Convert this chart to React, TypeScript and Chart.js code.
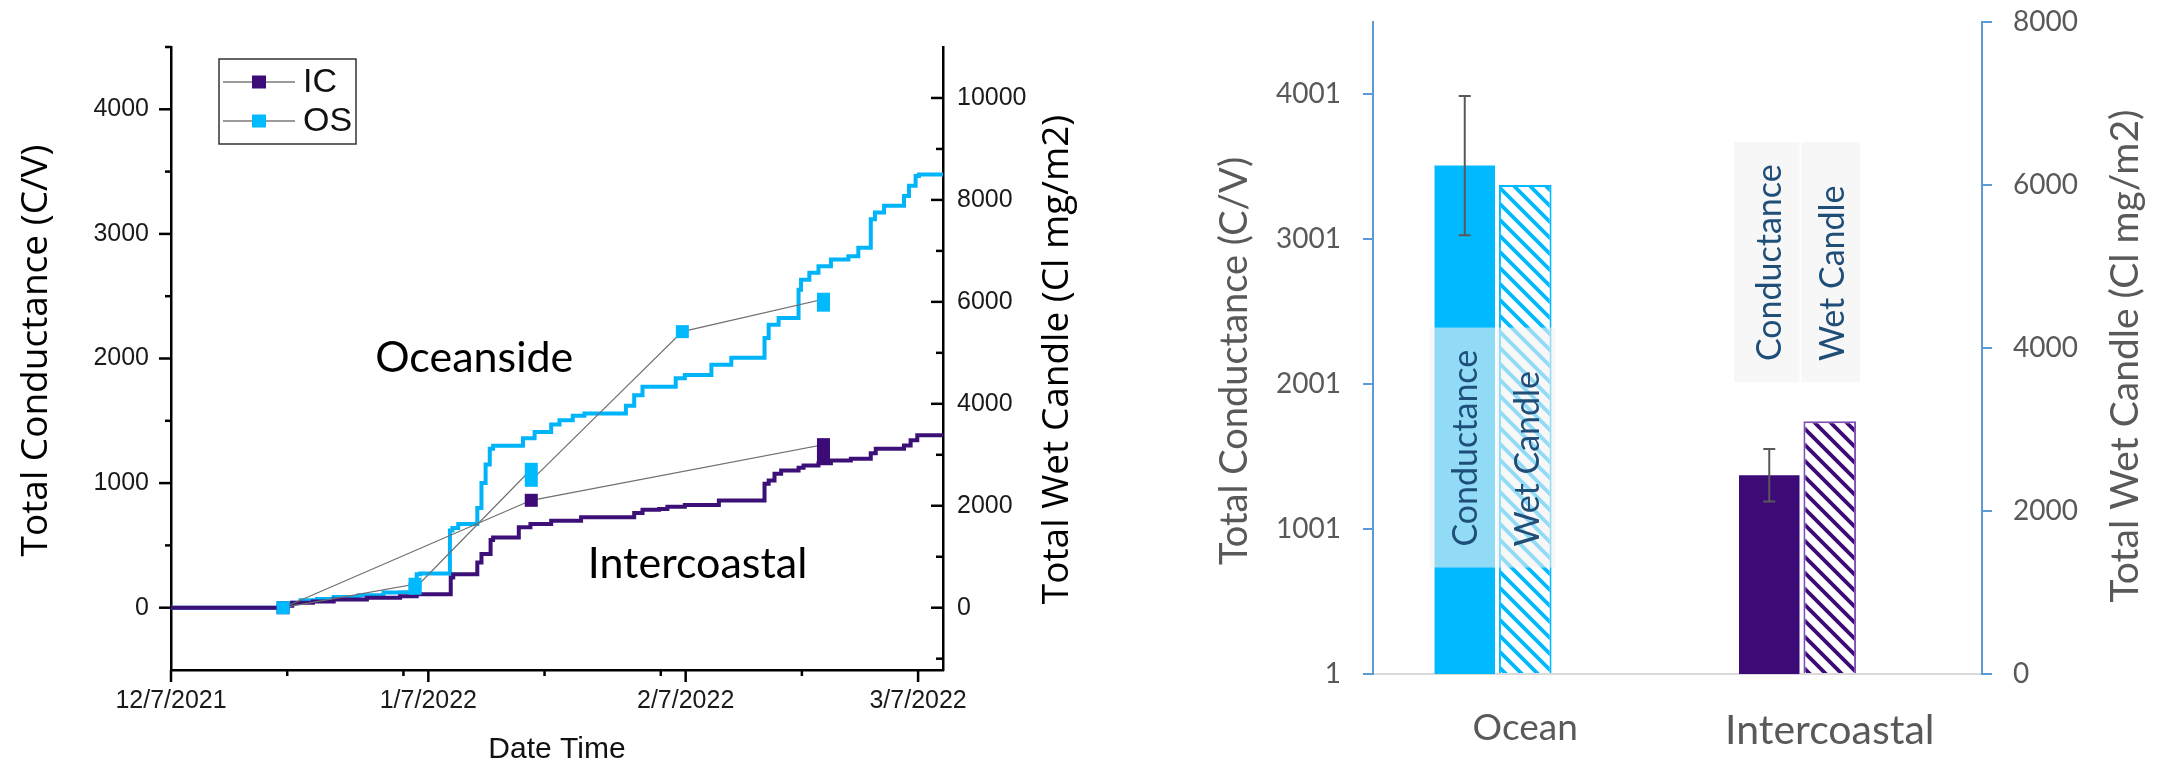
import React, { useEffect, useRef } from 'react';
import { Chart, registerables } from 'chart.js';

Chart.register(...registerables);

// ---------- Left panel: cumulative series (x = days since 12/7/2021) ----------
const osDays = [0, 13.9, 14.6, 15.6, 17.6, 19.6, 22.6, 25.6, 27.6, 29.1, 29.6, 30.0, 33.6, 33.9, 34.6, 36.9, 37.4, 37.9, 38.4, 38.8, 42.4, 43.8, 45.8, 46.8, 48.4, 49.8, 54.8, 55.8, 56.8, 60.8, 61.9, 65.1, 67.5, 71.5, 72.0, 73.2, 75.6, 75.9, 76.9, 78.0, 79.5, 81.6, 82.8, 84.3, 84.8, 85.9, 88.3, 88.9, 89.7, 90.1, 93];
const osConductance = [0, 0, 20, 40, 59, 70, 85, 100, 121, 125, 200, 269, 275, 620, 640, 672, 800, 1000, 1150, 1276, 1300, 1360, 1410, 1470, 1504, 1540, 1558, 1620, 1706, 1773, 1841, 1867, 1950, 2006, 2165, 2271, 2326, 2552, 2633, 2688, 2741, 2795, 2820, 2889, 3117, 3171, 3225, 3305, 3386, 3464, 3477];
const icDays = [0, 13.9, 14.6, 17.1, 19.6, 23.6, 27.6, 29.6, 33.7, 34.0, 34.6, 36.9, 37.4, 38.5, 38.8, 41.9, 43.3, 45.8, 49.4, 55.8, 56.8, 58.8, 59.8, 61.9, 66.0, 71.5, 72.0, 72.7, 73.5, 75.6, 76.2, 78.0, 79.5, 81.9, 84.3, 84.9, 88.3, 89.1, 89.9, 90.3, 93];
const icConductance = [0, 0, 15, 40, 50, 65, 80, 92, 107, 242, 269, 269, 363, 430, 543, 564, 645, 671, 698, 725, 760, 786, 793, 811, 825, 860, 994, 1020, 1075, 1102, 1123, 1141, 1160, 1182, 1195, 1240, 1276, 1302, 1344, 1384, 1384];
const osCandleDays = [13.5, 29.4, 29.4, 43.4, 43.4, 61.6, 78.6, 78.6];
const osCandleValues = [0, 461, 382, 2715, 2499, 5416, 6052, 5935];
const icCandleDays = [13.5, 43.4, 78.6, 78.6, 78.6];
const icCandleValues = [0, 2107, 3199, 3065, 2930];
const dateTickDays = [0, 31, 62, 90];
const dateTickLabels = ['12/7/2021', '1/7/2022', '2/7/2022', '3/7/2022'];
const dateMinorDays = [14, 28, 45, 59, 76];
const conductanceTicks = [0, 1000, 2000, 3000, 4000];
const conductanceMinor = [500, 1500, 2500, 3500, 4500];
const candleTicks = [0, 2000, 4000, 6000, 8000, 10000];
const candleMinor = [-1000, 1000, 3000, 5000, 7000, 9000];
const legendLabels = ['IC', 'OS'];

// ---------- Right panel: totals per site ----------
const sites = ['Ocean', 'Intercoastal'];
const siteConductance = [3510, 1373];
const siteConductanceErr = [480, 181];
const siteWetCandle = [6000, 3100];
const barConductanceTicks = [1, 1001, 2001, 3001, 4001];
const seriesLabels = ['Conductance', 'Wet Candle'];

const CYAN = '#00B9FF';
const PURPLE = '#3D0B78';
const CYAN_LINE = '#00B4FA';
const PURPLE_LINE = '#3C1077';

function vText(ctx: CanvasRenderingContext2D, text: string, x: number, y: number, font: string, color: string, align: CanvasTextAlign = 'center') {
  ctx.save();
  ctx.translate(x, y);
  ctx.rotate(-Math.PI / 2);
  ctx.font = font;
  ctx.fillStyle = color;
  ctx.textAlign = align;
  ctx.textBaseline = 'alphabetic';
  ctx.fillText(text, 0, 0);
  ctx.restore();
}

function makeHatch(color: string): CanvasPattern {
  const c = document.createElement('canvas');
  c.width = 16;
  c.height = 16;
  const g = c.getContext('2d')!;
  g.fillStyle = '#ffffff';
  g.fillRect(0, 0, 16, 16);
  g.strokeStyle = color;
  g.lineWidth = 3.8;
  g.beginPath();
  g.moveTo(-4, -4); g.lineTo(20, 20);
  g.moveTo(-4, 12); g.lineTo(4, 20);
  g.moveTo(12, -4); g.lineTo(20, 4);
  g.stroke();
  return g.createPattern(c, 'repeat')!;
}

const noVPad = (s: any, w: number) => {
  s.width = w;
  s.paddingTop = 0;
  s.paddingBottom = 0;
};

const leftDecor = {
  id: 'leftDecor',
  afterDraw(chart: any) {
    const ctx: CanvasRenderingContext2D = chart.ctx;
    const a = chart.chartArea;
    const sx = chart.scales.x, sy = chart.scales.y, sy2 = chart.scales.y2;
    ctx.save();
    ctx.strokeStyle = '#000';
    ctx.lineWidth = 2.5;
    const seg = (x1: number, y1: number, x2: number, y2: number) => {
      ctx.beginPath(); ctx.moveTo(x1, y1); ctx.lineTo(x2, y2); ctx.stroke();
    };
    conductanceTicks.forEach(v => { const p = sy.getPixelForValue(v); seg(a.left - 12, p, a.left, p); });
    conductanceMinor.forEach(v => { const p = sy.getPixelForValue(v); seg(a.left - 6, p, a.left, p); });
    candleTicks.forEach(v => { const p = sy2.getPixelForValue(v); seg(a.right, p, a.right - 12, p); });
    candleMinor.forEach(v => { const p = sy2.getPixelForValue(v); seg(a.right, p, a.right - 7, p); });
    dateTickDays.forEach(v => { const p = sx.getPixelForValue(v); seg(p, a.bottom, p, a.bottom + 12); });
    dateMinorDays.forEach(v => { const p = sx.getPixelForValue(v); seg(p, a.bottom, p, a.bottom + 6); });

    // legend
    const bx = a.left + 48, by = a.top + 12;
    ctx.lineWidth = 1.5;
    ctx.strokeStyle = '#333';
    ctx.strokeRect(bx, by, 137, 85);
    const rows = [a.top + 35, a.top + 74];
    const cols = [PURPLE, CYAN];
    rows.forEach((ry, i) => {
      ctx.strokeStyle = '#7a7a7a';
      ctx.lineWidth = 1.5;
      seg(bx + 4, ry, bx + 76, ry);
      ctx.fillStyle = cols[i];
      ctx.fillRect(bx + 33, ry - 6.5, 14, 13);
      ctx.fillStyle = '#111';
      ctx.font = '34px "Liberation Sans", Arial, sans-serif';
      ctx.textAlign = 'left';
      ctx.textBaseline = 'middle';
      ctx.fillText(legendLabels[i], bx + 84, ry + 1);
    });

    // axis titles
    const cy = (a.top + a.bottom) / 2;
    vText(ctx, 'Total Conductance (C/V)', a.left - 124, cy - 8, '37px "Open Sans", sans-serif', '#000');
    vText(ctx, 'Total Wet Candle (Cl mg/m2)', a.right + 125, cy + 1, '37px "Open Sans", sans-serif', '#000');
    ctx.font = '30px "Liberation Sans", Arial, sans-serif';
    ctx.fillStyle = '#111';
    ctx.textAlign = 'center';
    ctx.textBaseline = 'alphabetic';
    ctx.fillText('Date Time', (a.left + a.right) / 2, a.bottom + 88);

    // site annotations
    ctx.font = '43px Lato, sans-serif';
    ctx.fillStyle = '#000';
    ctx.textAlign = 'left';
    ctx.fillText('Oceanside', sx.getPixelForValue(24.6), sy.getPixelForValue(1892));
    ctx.fillText('Intercoastal', sx.getPixelForValue(50.2), sy.getPixelForValue(238));
    ctx.restore();
  },
};

const rightDecor = {
  id: 'rightDecor',
  afterDatasetsDraw(chart: any) {
    const ctx: CanvasRenderingContext2D = chart.ctx;
    const sy = chart.scales.y;
    const m0 = chart.getDatasetMeta(0), m1 = chart.getDatasetMeta(1);
    const mids = [1564, 2844];
    ctx.save();
    sites.forEach((_, i) => {
      const b0 = m0.data[i], b1 = m1.data[i];
      const cy = sy.getPixelForValue(mids[i]);
      const top = cy - 120, bottom = cy + 120;
      ctx.fillStyle = 'rgba(242,242,242,0.6)';
      ctx.fillRect(b0.x - b0.width / 2 - 5, top, b0.width + 5, 240);
      ctx.fillRect(b1.x - b1.width / 2 - 2, top, b1.width + 6, 240);
      vText(ctx, seriesLabels[0], b0.x + 12, bottom - 21, '34px Lato, sans-serif', '#1F4E79', 'left');
      vText(ctx, seriesLabels[1], b1.x + 14, bottom - 21, '34px Lato, sans-serif', '#1F4E79', 'left');
    });
    // error bars
    ctx.strokeStyle = '#595959';
    ctx.lineWidth = 2;
    sites.forEach((_, i) => {
      const b0 = m0.data[i];
      const yt = sy.getPixelForValue(siteConductance[i] + siteConductanceErr[i]);
      const yb = sy.getPixelForValue(siteConductance[i] - siteConductanceErr[i]);
      ctx.beginPath();
      ctx.moveTo(b0.x, yt); ctx.lineTo(b0.x, yb);
      ctx.moveTo(b0.x - 6, yt); ctx.lineTo(b0.x + 6, yt);
      ctx.moveTo(b0.x - 6, yb); ctx.lineTo(b0.x + 6, yb);
      ctx.stroke();
    });
    ctx.restore();
  },
  afterDraw(chart: any) {
    const ctx: CanvasRenderingContext2D = chart.ctx;
    const a = chart.chartArea;
    vText(ctx, 'Total Conductance (C/V)', a.left - 126, 361, '38px Lato, sans-serif', '#595959');
    vText(ctx, 'Total Wet Candle (Cl mg/m2)', a.right + 156, 356, '39px Lato, sans-serif', '#595959');
  },
};

export default function App() {
  const leftRef = useRef<HTMLCanvasElement>(null);
  const rightRef = useRef<HTMLCanvasElement>(null);

  useEffect(() => {
    const pts = (xs: number[], ys: number[]) => xs.map((x, i) => ({ x, y: ys[i] }));
    const tickFont = { family: '"Liberation Sans", Arial, sans-serif', size: 25 };

    const left = new Chart(leftRef.current!, {
      type: 'line',
      data: {
        datasets: [
          {
            label: 'OS wet candle', data: pts(osCandleDays, osCandleValues), yAxisID: 'y2',
            borderColor: '#6f6f6f', borderWidth: 1.2, pointStyle: 'rect', pointRadius: 9.2,
            pointBackgroundColor: CYAN, pointBorderColor: CYAN, pointBorderWidth: 0, tension: 0,
          },
          {
            label: 'IC wet candle', data: pts(icCandleDays, icCandleValues), yAxisID: 'y2',
            borderColor: '#6f6f6f', borderWidth: 1.2, pointStyle: 'rect', pointRadius: 9.2,
            pointBackgroundColor: PURPLE, pointBorderColor: PURPLE, pointBorderWidth: 0, tension: 0,
          },
          {
            label: 'IC', data: pts(icDays, icConductance), yAxisID: 'y',
            borderColor: PURPLE_LINE, borderWidth: 4, pointRadius: 0, stepped: 'after',
          },
          {
            label: 'OS', data: pts(osDays, osConductance), yAxisID: 'y',
            borderColor: CYAN_LINE, borderWidth: 4, pointRadius: 0, stepped: 'after',
          },
        ],
      },
      options: {
        responsive: false,
        animation: false,
        events: [],
        layout: { padding: { top: 47, left: 0, right: 0, bottom: 0 } },
        plugins: { legend: { display: false }, tooltip: { enabled: false } },
        scales: {
          x: {
            type: 'linear', position: 'bottom', min: 0, max: 93,
            afterBuildTicks: (s: any) => { s.ticks = dateTickDays.map(v => ({ value: v })); },
            afterFit: (s: any) => { s.height = 94; },
            grid: { display: false, drawTicks: false },
            border: { display: true, color: '#000', width: 2.5 },
            ticks: {
              autoSkip: false, maxRotation: 0, minRotation: 0, padding: 16, font: tickFont, color: '#1a1a1a',
              callback: (_v: any, i: number) => dateTickLabels[i],
            },
          },
          y: {
            type: 'linear', position: 'left', min: -500, max: 4500,
            afterBuildTicks: (s: any) => { s.ticks = conductanceTicks.map(v => ({ value: v })); },
            afterFit: (s: any) => noVPad(s, 171),
            grid: { display: false, drawTicks: false },
            border: { display: true, color: '#000', width: 2.5 },
            ticks: { padding: 22, font: tickFont, color: '#1a1a1a', callback: (v: any) => String(v) },
          },
          y2: {
            type: 'linear', position: 'right', min: -1222, max: 11000,
            afterBuildTicks: (s: any) => { s.ticks = candleTicks.map(v => ({ value: v })); },
            afterFit: (s: any) => noVPad(s, 177),
            grid: { display: false, drawTicks: false },
            border: { display: true, color: '#000', width: 2.5 },
            ticks: { padding: 14, font: tickFont, color: '#1a1a1a', callback: (v: any) => String(v) },
          },
        },
      } as any,
      plugins: [leftDecor],
    });

    const hatchCyan = makeHatch(CYAN);
    const hatchPurple = makeHatch(PURPLE);
    const catPct = 0.596;
    const right = new Chart(rightRef.current!, {
      type: 'bar',
      data: {
        labels: sites,
        datasets: [
          {
            label: seriesLabels[0], data: siteConductance, yAxisID: 'y',
            backgroundColor: [CYAN, PURPLE], borderWidth: 0,
            barPercentage: 1.0, categoryPercentage: catPct,
          },
          {
            label: seriesLabels[1], data: siteWetCandle, yAxisID: 'y2',
            backgroundColor: [hatchCyan, hatchPurple], borderColor: [CYAN, '#7E50B4'], borderWidth: 2,
            barPercentage: 0.87, categoryPercentage: catPct,
          },
          {
            label: '', data: [null, null], yAxisID: 'y',
            barPercentage: 1.0, categoryPercentage: catPct,
          },
        ],
      },
      options: {
        responsive: false,
        animation: false,
        events: [],
        layout: { padding: { top: 22, left: 0, right: 0, bottom: 0 } },
        plugins: { legend: { display: false }, tooltip: { enabled: false } },
        scales: {
          x: {
            type: 'category',
            afterFit: (s: any) => { s.height = 90; },
            grid: { display: false, drawTicks: false },
            border: { display: true, color: '#D9D9D9', width: 2 },
            ticks: {
              padding: 32, color: '#595959',
              font: (c: any) => ({ family: 'Lato, sans-serif', size: c.index === 0 ? 37 : 41 }),
            },
          },
          y: {
            type: 'linear', position: 'left', min: 1, max: 4501,
            afterBuildTicks: (s: any) => { s.ticks = barConductanceTicks.map(v => ({ value: v })); },
            afterFit: (s: any) => noVPad(s, 253),
            grid: { display: true, drawOnChartArea: false, drawTicks: true, tickLength: 10, color: '#5B9BD5', lineWidth: 2 },
            border: { display: true, color: '#5B9BD5', width: 2 },
            ticks: { padding: 22, color: '#595959', font: { family: 'Lato, sans-serif', size: 28 }, callback: (v: any) => String(v) },
          },
          y2: {
            type: 'linear', position: 'right', min: 0, max: 8000,
            ticks: { stepSize: 2000, padding: 21, color: '#595959', font: { family: 'Lato, sans-serif', size: 28 }, callback: (v: any) => String(v) },
            afterFit: (s: any) => noVPad(s, 183),
            grid: { display: true, drawOnChartArea: false, drawTicks: true, tickLength: 10, color: '#5B9BD5', lineWidth: 2 },
            border: { display: true, color: '#5B9BD5', width: 2 },
          },
        },
      } as any,
      plugins: [rightDecor],
    });

    return () => {
      left.destroy();
      right.destroy();
    };
  }, []);

  return (
    <div style={{ position: 'absolute', left: 0, top: 0, width: 2165, height: 764, background: '#ffffff', overflow: 'hidden' }}>
      <canvas ref={leftRef} width={1120} height={764} style={{ position: 'absolute', left: 0, top: 0, width: 1120, height: 764 }} />
      <canvas ref={rightRef} width={1045} height={764} style={{ position: 'absolute', left: 1120, top: 0, width: 1045, height: 764 }} />
    </div>
  );
}
